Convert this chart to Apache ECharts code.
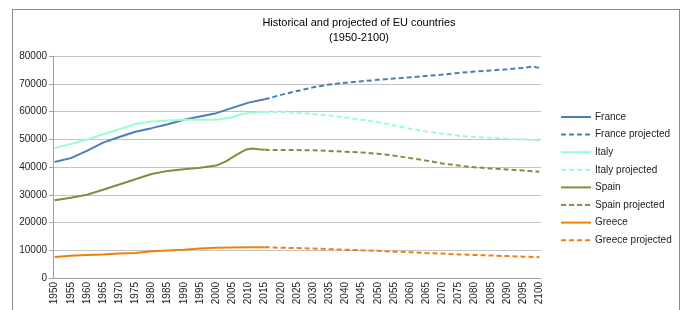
<!DOCTYPE html>
<html>
<head>
<meta charset="utf-8">
<script src="https://cdn.jsdelivr.net/npm/echarts@6/dist/echarts.min.js"></script>
<style>
  body { margin: 0; background: #fff; }
  #frame { position: absolute; left: 12px; top: 9px; width: 668px; height: 320px; border: 1px solid #8c8c8c; box-sizing: border-box; }
  #chart { position: absolute; left: 0; top: 0; width: 684px; height: 310px; }
</style>
</head>
<body>
<div id="frame"></div>
<div id="chart"></div>
<script>
// 年份刻度
const years = [];
for (let y = 1950; y <= 2100; y++) years.push(String(y));

// [year, population (thousands)]
const franceHist = [[1950, 41800], [1955, 43200], [1960, 45800], [1965, 48800], [1970, 50800], [1975, 52700], [1980, 54000], [1985, 55400], [1990, 57000], [1995, 58200], [2000, 59400], [2005, 61300], [2010, 63200], [2015, 64400]];
const franceProj = [[2015, 64400], [2020, 66000], [2025, 67400], [2030, 68700], [2035, 69700], [2040, 70400], [2045, 70900], [2050, 71400], [2055, 71900], [2060, 72300], [2065, 72800], [2070, 73300], [2075, 73900], [2080, 74400], [2085, 74800], [2090, 75200], [2095, 75700], [2098, 76200], [2100, 75700]];

const italyHist = [[1950, 46800], [1955, 48300], [1960, 49800], [1965, 51800], [1970, 53600], [1975, 55500], [1980, 56400], [1985, 56800], [1990, 57000], [1995, 57000], [2000, 57000], [2005, 57900], [2008, 59000], [2010, 59500], [2015, 59800]];
const italyProj = [[2015, 59800], [2020, 59800], [2025, 59500], [2030, 59100], [2035, 58600], [2040, 57800], [2045, 57000], [2050, 56200], [2055, 55000], [2060, 53800], [2065, 52800], [2070, 52000], [2075, 51300], [2080, 50800], [2085, 50500], [2090, 50200], [2095, 49900], [2100, 49500]];

const spainHist = [[1950, 28000], [1955, 28900], [1960, 30000], [1965, 31800], [1970, 33700], [1975, 35600], [1980, 37500], [1985, 38600], [1990, 39200], [1995, 39700], [2000, 40500], [2003, 42000], [2006, 44200], [2009, 46200], [2011, 46700], [2013, 46400], [2015, 46200]];
const spainProj = [[2015, 46200], [2020, 46100], [2025, 46100], [2030, 46000], [2035, 45800], [2040, 45500], [2045, 45200], [2050, 44800], [2055, 44100], [2060, 43200], [2065, 42300], [2070, 41300], [2075, 40500], [2080, 39900], [2085, 39500], [2090, 39100], [2095, 38700], [2100, 38300]];

const greeceHist = [[1950, 7600], [1955, 8000], [1960, 8300], [1965, 8500], [1970, 8800], [1975, 9000], [1980, 9600], [1985, 9900], [1990, 10200], [1995, 10600], [2000, 10900], [2005, 11000], [2010, 11100], [2015, 11100]];
const greeceProj = [[2015, 11100], [2020, 10900], [2025, 10800], [2030, 10600], [2035, 10400], [2040, 10200], [2045, 10000], [2050, 9800], [2055, 9500], [2060, 9300], [2065, 9000], [2070, 8800], [2075, 8500], [2080, 8300], [2085, 8100], [2090, 7900], [2095, 7700], [2100, 7500]];

const seriesDefs = [
  { name: "France", data: franceHist, color: "#4a7ebb", dashed: false },
  { name: "France projected", data: franceProj, color: "#4a7ebb", dashed: true },
  { name: "Italy", data: italyHist, color: "#99ffcc", dashed: false },
  { name: "Italy projected", data: italyProj, color: "#99ffcc", dashed: true },
  { name: "Spain", data: spainHist, color: "#77933c", dashed: false },
  { name: "Spain projected", data: spainProj, color: "#77933c", dashed: true },
  { name: "Greece", data: greeceHist, color: "#f0800a", dashed: false },
  { name: "Greece projected", data: greeceProj, color: "#f0800a", dashed: true },
];

const font = "Liberation Sans, Arial, sans-serif";

const option = {
  animation: false,
  title: {
    text: "Historical and projected of EU countries",
    subtext: "(1950-2100)",
    left: 359,
    top: 17,
    textAlign: "center",
    itemGap: 4,
    padding: 0,
    textStyle: { fontFamily: font, fontSize: 11, fontWeight: "normal", color: "#000" },
    subtextStyle: { fontFamily: font, fontSize: 11, color: "#000" },
  },
  legend: {
    orient: "vertical",
    left: 560,
    top: 112,
    itemWidth: 30,
    itemHeight: 8,
    itemGap: 7.6,
    padding: 0,
    data: seriesDefs.map((s) => s.name),
    itemStyle: { opacity: 0, borderWidth: 0 },
    textStyle: { fontFamily: font, fontSize: 10, color: "#222", lineHeight: 10, padding: [0, 0, 0, -1] },
  },
  grid: { left: 53, right: 143, top: 56, bottom: 32 },
  xAxis: {
    type: "category",
    data: years,
    boundaryGap: true,
    axisLine: { lineStyle: { color: "#a0a0a0", width: 1 } },
    axisTick: { show: false },
    axisLabel: {
      interval: 4,
      rotate: 90,
      margin: 4,
      fontFamily: font,
      fontSize: 10,
      color: "#222",
    },
  },
  yAxis: {
    type: "value",
    min: 0,
    max: 80000,
    interval: 10000,
    axisLine: { show: true, lineStyle: { color: "#a0a0a0" } },
    axisTick: { show: true, length: 4, lineStyle: { color: "#a0a0a0" } },
    axisLabel: { margin: 6, fontFamily: font, fontSize: 10, color: "#222", formatter: (v) => String(v) },
    splitLine: { lineStyle: { color: "#c4c4c4", width: 1 } },
  },
  series: seriesDefs.map((s) => ({
    name: s.name,
    type: "line",
    symbol: "none",
    color: s.color,
    lineStyle: { width: 2, color: s.color, type: s.dashed ? [5, 3] : "solid" },
    data: s.data.map((d) => [String(d[0]), d[1]]),
  })),
};

const myChart = echarts.init(document.getElementById("chart"));
myChart.setOption(option);
</script>
</body>
</html>
